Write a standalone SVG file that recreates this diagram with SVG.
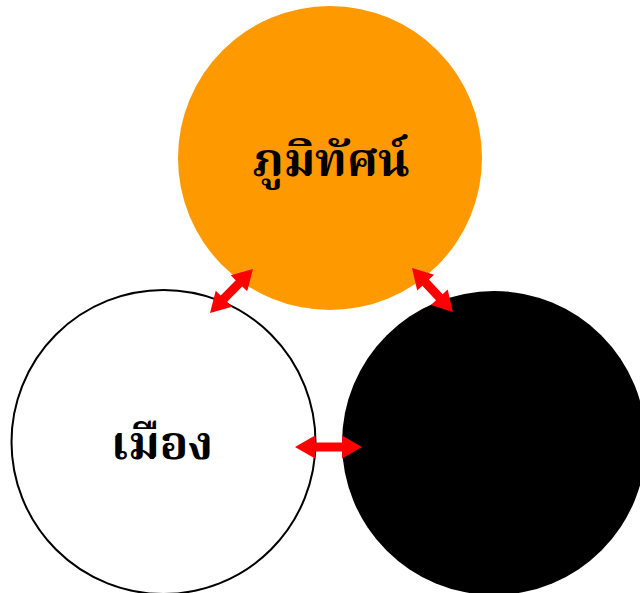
<svg xmlns="http://www.w3.org/2000/svg" width="640" height="593" viewBox="0 0 640 593">
<style>
.lbl{font-family:"Liberation Serif","Noto Serif Thai","Noto Sans Thai","DejaVu Serif",serif;font-weight:bold;font-size:47px;text-anchor:middle;fill:#000}
.arr{fill:#ff0000;stroke:none}
</style>
<rect width="640" height="593" fill="#ffffff"/>
<g id="node-landscape">
<circle cx="330" cy="158" r="152" fill="#ff9900"/>
<text class="lbl" x="331" y="176">ภูมิทัศน์</text>
</g>
<g id="node-city">
<circle cx="163.5" cy="442" r="152" fill="#ffffff" stroke="#000000" stroke-width="2"/>
<text class="lbl" x="162" y="459">เมือง</text>
</g>
<g id="node-black">
<circle cx="494" cy="443" r="152" fill="#000000"/>
</g>
<g id="connectors">
<polygon class="arr" transform="translate(210,313) rotate(-45.7)" points="0,0 20,-11.5 20,-4.5 41.5,-4.5 41.5,-11.5 61.5,0 41.5,11.5 41.5,4.5 20,4.5 20,11.5"/>
<polygon class="arr" transform="translate(412,268) rotate(47)" points="0,0 20,-11.5 20,-4.5 40,-4.5 40,-11.5 60,0 40,11.5 40,4.5 20,4.5 20,11.5"/>
<polygon class="arr" transform="translate(295,447)" points="0,0 20,-11.5 20,-4.5 47,-4.5 47,-11.5 67,0 47,11.5 47,4.5 20,4.5 20,11.5"/>
</g>
</svg>
